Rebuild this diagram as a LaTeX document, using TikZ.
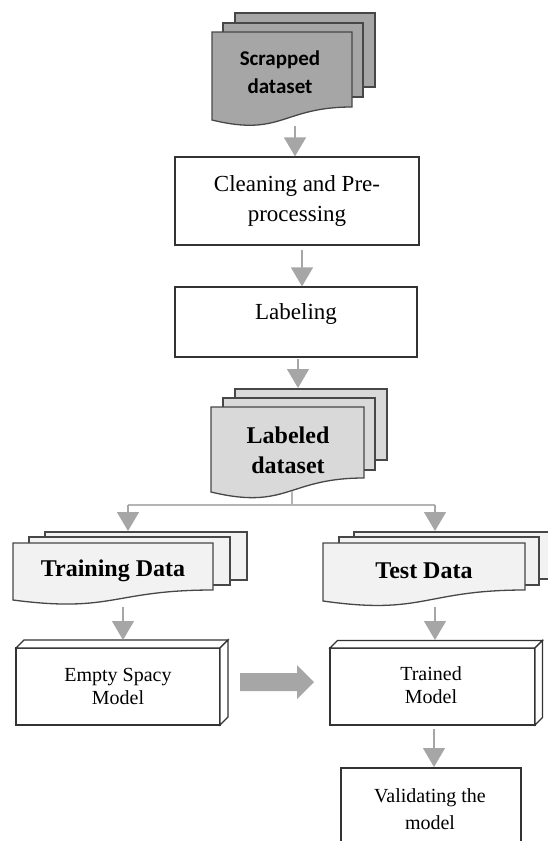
\documentclass[tikz,border=0pt]{standalone}
\usepackage{fontspec}
\setmainfont{Liberation Serif}
\newfontfamily\carlito{Carlito}
\usetikzlibrary{arrows.meta}

\definecolor{arrowgray}{HTML}{A6A6A6}
\definecolor{linkgray}{HTML}{B4B4B4}
\definecolor{darkdoc}{HTML}{A6A6A6}
\definecolor{middoc}{HTML}{D9D9D9}
\definecolor{lightdoc}{HTML}{F2F2F2}
\definecolor{edge}{HTML}{333333}

% stacked document sheets: back sheets are plain rectangles
\newcommand\docsheet[5]{%
  \filldraw[docline, fill=#1] (#2,#3) rectangle (#4,#5);}
% front sheet with the wavy bottom edge
\newcommand\docpage[6]{%
  \filldraw[docline, fill=#1] (#2,#3) -- (#4,#3) -- (#4,#5)
    .. controls ({(#2+#4)/2},#5) and ({(#2+#4)/2},{#5+2.316*(#6-#5)}) .. (#2,#6) -- cycle;}
% box with a shallow 3D depth on top and right
\newcommand\cubebox[5]{%
  \filldraw[boxline] (#1,#2) rectangle (#3,#4);
  \filldraw[boxline] (#1,#2) -- ({#1+#5},{#2-#5}) -- ({#3+#5},{#2-#5}) -- (#3,#2) -- cycle;
  \filldraw[boxline] (#3,#2) -- ({#3+#5},{#2-#5}) -- ({#3+#5},{#4-#5}) -- (#3,#4) -- cycle;}

\tikzset{
  docline/.style={draw=black!72, line width=1.3pt},
  boxline/.style={draw=edge, line width=1.2pt, fill=white},
  plaintext/.style={align=center, inner sep=0pt, font=\fontsize{23}{30}\selectfont},
  smalltext/.style={align=center, inner sep=0pt, font=\fontsize{20}{23}\selectfont},
  boldtext/.style={align=center, inner sep=0pt, font=\bfseries\fontsize{24}{30}\selectfont},
  flowarrow/.style={draw=arrowgray, line width=1.3pt, -{Triangle[width=22pt,length=19pt]}},
  splitline/.style={draw=linkgray, line width=1.1pt},
}

\begin{document}
\begin{tikzpicture}[x=1pt, y=-1pt]
\useasboundingbox (0,0) rectangle (548,841);
\clip (0,0) rectangle (548,841);

% Scrapped dataset
\docsheet{darkdoc}{235}{13}{375}{87}
\docsheet{darkdoc}{223}{23}{363}{97}
\docpage{darkdoc}{212}{32}{352}{107}{120}
\node[align=center, inner sep=0pt, font=\carlito\bfseries\fontsize{21}{28}\selectfont] (scr) at (280,72) {Scrapped\\dataset};
\coordinate (scrOut) at (295,126);

% Cleaning and Pre-processing
\node[draw=edge, line width=1.2pt, minimum width=244pt, minimum height=88pt, inner sep=0pt] (clean) at (297,201) {};
\node[plaintext] (cleanTxt) at (clean.center) {Cleaning and Pre-\\processing};
\coordinate (cleanOut) at (302,250);

% Labeling
\node[draw=edge, line width=1.2pt, minimum width=242pt, minimum height=70pt, inner sep=0pt] (label) at (296,322) {};
\node[plaintext] (labelTxt) at (296,314) {Labeling};
\coordinate (labelOut) at (298,359);

% Labeled dataset
\docsheet{middoc}{235}{389}{387}{460}
\docsheet{middoc}{223}{398}{375}{470}
\docpage{middoc}{211}{407}{364}{478}{492}
\node[boldtext] (labeled) at (288,450) {Labeled\\dataset};
\coordinate (labeledOut) at (292,491);
\coordinate (split) at (292,505);
\coordinate (splitL) at (128,505);
\coordinate (splitR) at (435,505);

% Training Data
\docsheet{lightdoc}{45}{532}{247}{580}
\docsheet{lightdoc}{29}{537}{230}{585}
\docpage{lightdoc}{13}{543}{213}{590}{600}
\node[boldtext] (train) at (113,571) {Training Data};
\coordinate (trainIn) at (128,531);
\coordinate (trainOut) at (123,607);

% Test Data
\docsheet{lightdoc}{354}{532}{556}{579}
\docsheet{lightdoc}{339}{537}{539}{585}
\docpage{lightdoc}{323}{543}{525}{590}{601}
\node[boldtext] (test) at (424,571) {Test Data};
\coordinate (testIn) at (435,531);
\coordinate (testOut) at (435,607);

% Empty Spacy Model
\cubebox{16}{648}{220}{725}{8}
\node[smalltext] (empty) at (118,686) {Empty Spacy\\Model};
\coordinate (emptyIn) at (123,640);

% Trained Model
\cubebox{330}{648}{535}{725}{7.5}
\node[smalltext] (trained) at (431,685) {Trained\\Model};
\coordinate (trainedIn) at (435,640);
\coordinate (trainedOut) at (434,729);

% Validating the model
\filldraw[boxline] (341,768) rectangle (521,870);
\node[align=center, inner sep=0pt, font=\fontsize{20}{27}\selectfont] (valid) at (430,809) {Validating the\\model};
\coordinate (validIn) at (434,767);

% connectors
\draw[flowarrow] (scrOut) -- (scrOut |- clean.north);
\draw[flowarrow] (cleanOut) -- (cleanOut |- label.north);
\draw[flowarrow] (labelOut) -- (298,388);
\draw[splitline] (labeledOut) -- (split);
\draw[splitline] (splitL) -- (splitR);
\draw[flowarrow] (splitL) -- (trainIn);
\draw[flowarrow] (splitR) -- (testIn);
\draw[flowarrow] (trainOut) -- (emptyIn);
\draw[flowarrow] (testOut) -- (trainedIn);
\draw[flowarrow] (trainedOut) -- (validIn);

% thick block arrow between the two models
\fill[arrowgray] (240,673) -- (297,673) -- (297,665) -- (314,682)
  -- (297,699) -- (297,691) -- (240,691) -- cycle;
\end{tikzpicture}
\end{document}
